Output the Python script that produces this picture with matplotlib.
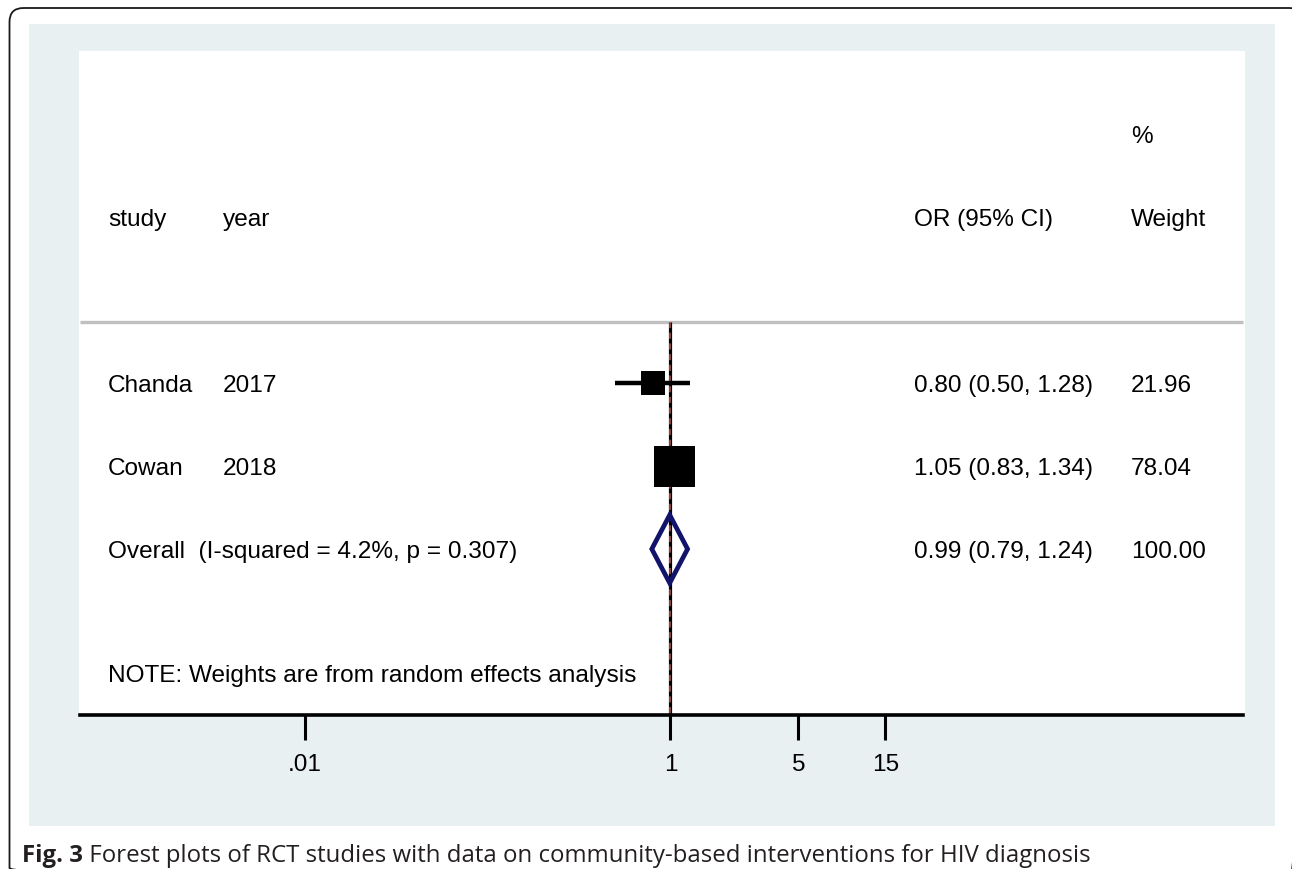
import matplotlib
matplotlib.use("Agg")
import matplotlib.pyplot as plt
import matplotlib.transforms as mtrans
from matplotlib.patches import Rectangle, FancyBboxPatch, Polygon

# ---------------- data ----------------
studies = ["Chanda", "Cowan"]
years = ["2017", "2018"]
or_est = [0.80, 1.05]
ci_low = [0.50, 0.83]
ci_high = [1.28, 1.34]
weights = [21.96, 78.04]
overall_label = "Overall  (I-squared = 4.2%, p = 0.307)"
overall_est = 0.99
overall_low = 0.79
overall_high = 1.24
overall_weight = 100.00
note_text = "NOTE: Weights are from random effects analysis"
xticks = [0.01, 1, 5, 15]
xtick_labels = [".01", "1", "5", "15"]
header_cols = ["study", "year", "OR (95% CI)", "Weight"]
caption_bold = "Fig. 3"
caption_rest = " Forest plots of RCT studies with data on community-based interventions for HIV diagnosis"

# ---------------- style ----------------
W, H = 1292, 869
DPI = 100
FONT = ["Liberation Sans", "DejaVu Sans"]
FS = 17.6
CAP_FS = 17.3
square_px = [24, 41]
NAVY = "#12136a"

plt.rcParams["font.family"] = FONT

fig = plt.figure(figsize=(W / DPI, H / DPI), dpi=DPI)
fig.patch.set_facecolor("white")

# background axes in pixel units
bg = fig.add_axes([0, 0, 1, 1])
bg.set_xlim(0, W)
bg.set_ylim(H, 0)
bg.axis("off")
bg.add_patch(Rectangle((29, 24), 1275 - 29, 826 - 24, facecolor="#e8f0f2", edgecolor="none"))
bg.add_patch(FancyBboxPatch((9.5, 8), 1303 - 9.5, 882 - 8,
                            boxstyle="round,pad=0,rounding_size=14",
                            facecolor="none", edgecolor="#1a1a1a", lw=1.3))

t1 = bg.text(22, 862, caption_bold, fontsize=CAP_FS, fontweight="bold",
             family=["Open Sans", "DejaVu Sans"], color="#231f20", va="baseline", ha="left")
bg.annotate(caption_rest, xy=(1, 0), xycoords=t1, fontsize=CAP_FS,
            family=["Open Sans", "DejaVu Sans"], color="#231f20", va="bottom", ha="left")

# main plot axes
L, R, T, B = 79, 1245, 51, 715
ax = fig.add_axes([L / W, 1 - B / H, (R - L) / W, (B - T) / H])
ax.set_facecolor("white")
ax.set_xscale("log")
ax.set_xlim(10 ** -3.237, 10 ** 3.144)
ax.set_ylim(4.0, -4.0)
for s in ["top", "left", "right"]:
    ax.spines[s].set_visible(False)
ax.spines["bottom"].set_linewidth(2.6)
ax.spines["bottom"].set_color("black")
ax.spines["bottom"].set_bounds(10 ** -3.23, 10 ** 3.135)
ax.set_yticks([])
ax.set_xticks(xticks)
ax.set_xticklabels(xtick_labels)
ax.xaxis.set_minor_locator(matplotlib.ticker.NullLocator())
ax.tick_params(axis="x", length=18, width=2.2, pad=10, labelsize=FS, color="black")

sep_row = -0.735
# header separator
ax.plot([10 ** -3.23, 10 ** 3.135], [sep_row, sep_row], color="#c0c0c0", lw=2.4, zorder=1,
        solid_capstyle="butt")
# null line
ax.plot([1, 1], [sep_row, 4.0], color="black", lw=2.3, zorder=2, solid_capstyle="butt")
# overall dashed line
ax.plot([overall_est, overall_est], [sep_row, 4.0], color="#b05555", lw=1.1,
        dashes=(4, 3), zorder=2)

# text helpers
cap_off = -0.716 * FS / 2
tx = mtrans.offset_copy(ax.get_yaxis_transform(), fig=fig, y=cap_off, units="points")
col_x = [(108 - L) / (R - L), (223 - L) / (R - L), (914 - L) / (R - L), (1131 - L) / (R - L)]

def put(col, row, s):
    ax.text(col, row, s, transform=tx, fontsize=FS, va="baseline", ha="left", color="black")

put(col_x[3], -3, "%")
for c, h in zip(col_x, header_cols):
    put(c, -2, h)

for i, (st, yr, e, lo, hi, w) in enumerate(zip(studies, years, or_est, ci_low, ci_high, weights)):
    ax.plot([lo, hi], [i, i], color="black", lw=3.2, solid_capstyle="butt", zorder=3)
    ax.plot([e], [i], marker="s", ms=square_px[i] * 72 / DPI, color="black",
            markeredgewidth=0, zorder=4)
    put(col_x[0], i, st)
    put(col_x[1], i, yr)
    put(col_x[2], i, f"{e:.2f} ({lo:.2f}, {hi:.2f})")
    put(col_x[3], i, f"{w:.2f}")

orow = len(studies)
hh = 0.41
diamond = Polygon([[overall_low, orow], [overall_est, orow - hh], [overall_high, orow],
                   [overall_est, orow + hh]], closed=True, facecolor="none",
                  edgecolor=NAVY, lw=3.4, joinstyle="miter", zorder=5)
ax.add_patch(diamond)
put(col_x[0], orow, overall_label)
put(col_x[2], orow, f"{overall_est:.2f} ({overall_low:.2f}, {overall_high:.2f})")
put(col_x[3], orow, f"{overall_weight:.2f}")

put(col_x[0], orow + 1.5, note_text)

fig.savefig("out.png", dpi=DPI)
